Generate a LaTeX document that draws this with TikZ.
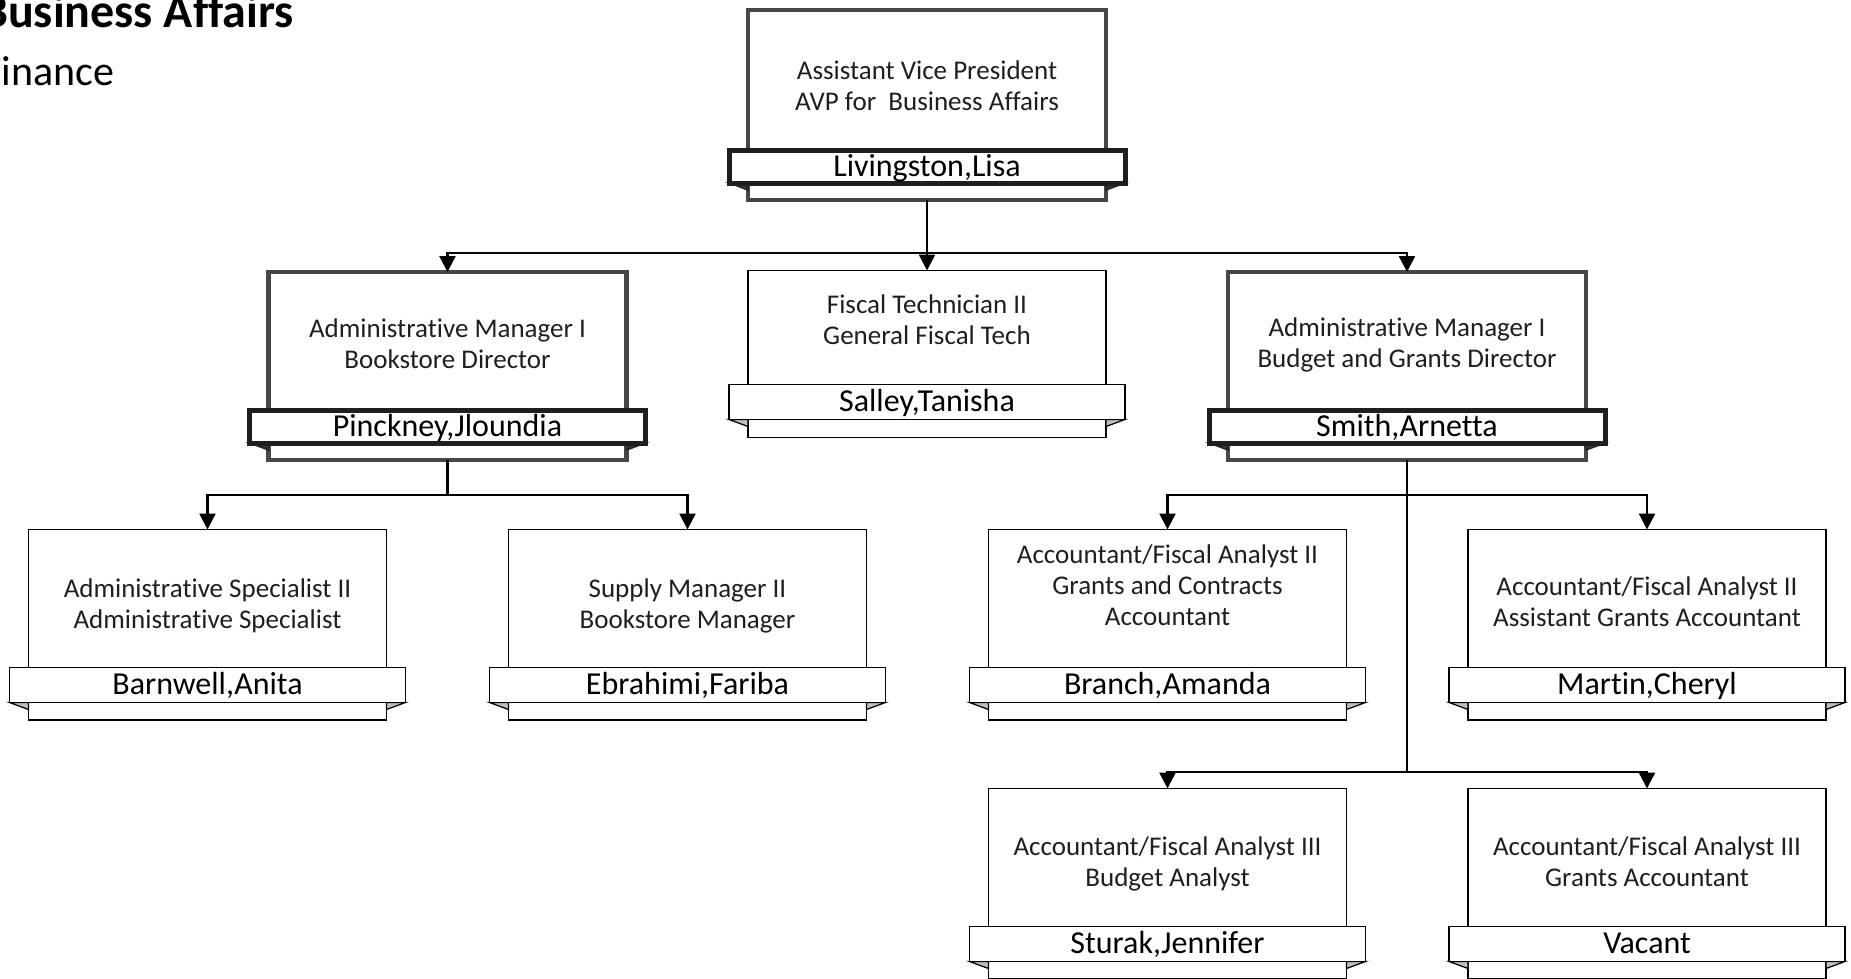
\documentclass[tikz,border=0pt]{standalone}
\usepackage{fontspec}
\setmainfont{Carlito}[Ligatures={NoCommon}]
\usetikzlibrary{arrows.meta,calc}

\tikzset{
 thinbox/.style={draw=black, line width=1.7pt, fill=white, inner sep=0pt, outer sep=0pt},
 thickbox/.style={draw=black!72, line width=4.5pt, fill=white, inner sep=0pt, outer sep=0pt},
 thinband/.style={draw=black, line width=1.7pt, fill=white, inner sep=0pt, outer sep=0pt, minimum width=396pt, minimum height=35pt},
 thickband/.style={draw=black!88, line width=5pt, fill=white, inner sep=0pt, outer sep=0pt, minimum width=396pt, minimum height=33pt},
 thinfold/.style={draw=black, line width=1.2pt, fill=black!25},
 thickfold/.style={draw=black!85, line width=1.5pt, fill=black!80},
 titletext/.style={font=\fontsize{27}{31}\selectfont, text=black!88, inner sep=0pt, anchor=base},
 nametext/.style={font=\fontsize{32}{36}\selectfont, text=black, inner sep=0pt, anchor=base},
 conn/.style={draw=black, line width=2.4pt},
 arr/.style={conn, -{Triangle[width=16pt,length=16pt]}},
}

% #1 id, #2 kind, #3 cx, #4 top, #5 band top, #6 bottom, #7 title baseline, #8 title, #9 name
\newcommand\orgunit[9]{%
 \pgfmathsetmacro\ouh{#6-#4}%
 \node[#2box, minimum width=358pt, minimum height=\ouh pt, anchor=north] (#1) at (#3,#4) {};
 \node[#2band, anchor=north] (#1n) at (#3,#5) {};
 \filldraw[#2fold] (#1n.south west) -- (#1n.south west -| #1.west) -- ($(#1n.south west -| #1.west)+(0,7)$) -- cycle;
 \filldraw[#2fold] (#1n.south east) -- (#1n.south east -| #1.east) -- ($(#1n.south east -| #1.east)+(0,7)$) -- cycle;
 \node[#2band, anchor=north] (#1b) at (#3,#5) {};
 \node[titletext] (#1t) at (#3,#7) {\begin{tabular}[t]{@{}c@{}}#8\end{tabular}};
 \node[nametext] (#1p) at ($(#1n.center)+(0,9.5)$) {#9};
}

\begin{document}
\begin{tikzpicture}[x=1pt,y=-1pt]
\useasboundingbox (0,0) rectangle (1851,978);
\fill[white] (0,0) rectangle (1851,978);
\clip (0,0) rectangle (1851,978);

\node[font=\bfseries\fontsize{48}{56}\selectfont, anchor=base west, inner sep=0pt] (ttl) at (-19,27) {Business Affairs};
\node[font=\fontsize{42}{50}\selectfont, anchor=base west, inner sep=0pt] (sub) at (-18,85) {Finance};

\orgunit{avp}{thick}{927}{10}{150}{200}{79}{Assistant Vice President\\AVP for~ Business Affairs}{Livingston,Lisa}
\orgunit{pin}{thick}{447.5}{272}{410}{460}{337}{Administrative Manager I\\Bookstore Director}{Pinckney,Jloundia}
\orgunit{fis}{thin}{927}{270.5}{384.5}{437.5}{313}{Fiscal Technician II\\General Fiscal Tech}{Salley,Tanisha}
\orgunit{smi}{thick}{1407}{272}{410}{460}{336}{Administrative Manager I\\Budget and Grants Director}{Smith,Arnetta}
\orgunit{bar}{thin}{207.5}{529.5}{667.5}{720}{597}{Administrative Specialist II\\Administrative Specialist}{Barnwell,Anita}
\orgunit{ebr}{thin}{687.5}{529.5}{667.5}{720}{597}{Supply Manager II\\Bookstore Manager}{Ebrahimi,Fariba}
\orgunit{bra}{thin}{1167.5}{529.5}{667.5}{720}{563}{Accountant/Fiscal Analyst II\\Grants and Contracts\\Accountant}{Branch,Amanda}
\orgunit{mar}{thin}{1647}{529.5}{667.5}{720}{595}{Accountant/Fiscal Analyst II\\Assistant Grants Accountant}{Martin,Cheryl}
\orgunit{stu}{thin}{1167.5}{788.5}{926.5}{979}{855}{Accountant/Fiscal Analyst III\\Budget Analyst}{Sturak,Jennifer}
\orgunit{vac}{thin}{1647}{788.5}{926.5}{979}{855}{Accountant/Fiscal Analyst III\\Grants Accountant}{Vacant}

\coordinate (ja) at (927,253);
\draw[conn] (avp.south) -- (ja);
\draw[arr] (ja) -| (pin.north);
\draw[arr] (ja) -| (smi.north);
\draw[arr] (ja) -- (fis.north);

\coordinate (jb) at (447.5,495);
\draw[conn] (pin.south) -- (jb);
\draw[arr] (jb) -| (bar.north);
\draw[arr] (jb) -| (ebr.north);

\coordinate (jc) at (1407,495);
\coordinate (jd) at (1407,772);
\draw[conn] (smi.south) -- (jd);
\draw[arr] (jc) -| (bra.north);
\draw[arr] (jc) -| (mar.north);
\draw[arr] (jd) -| (stu.north);
\draw[arr] (jd) -| (vac.north);
\end{tikzpicture}
\end{document}
